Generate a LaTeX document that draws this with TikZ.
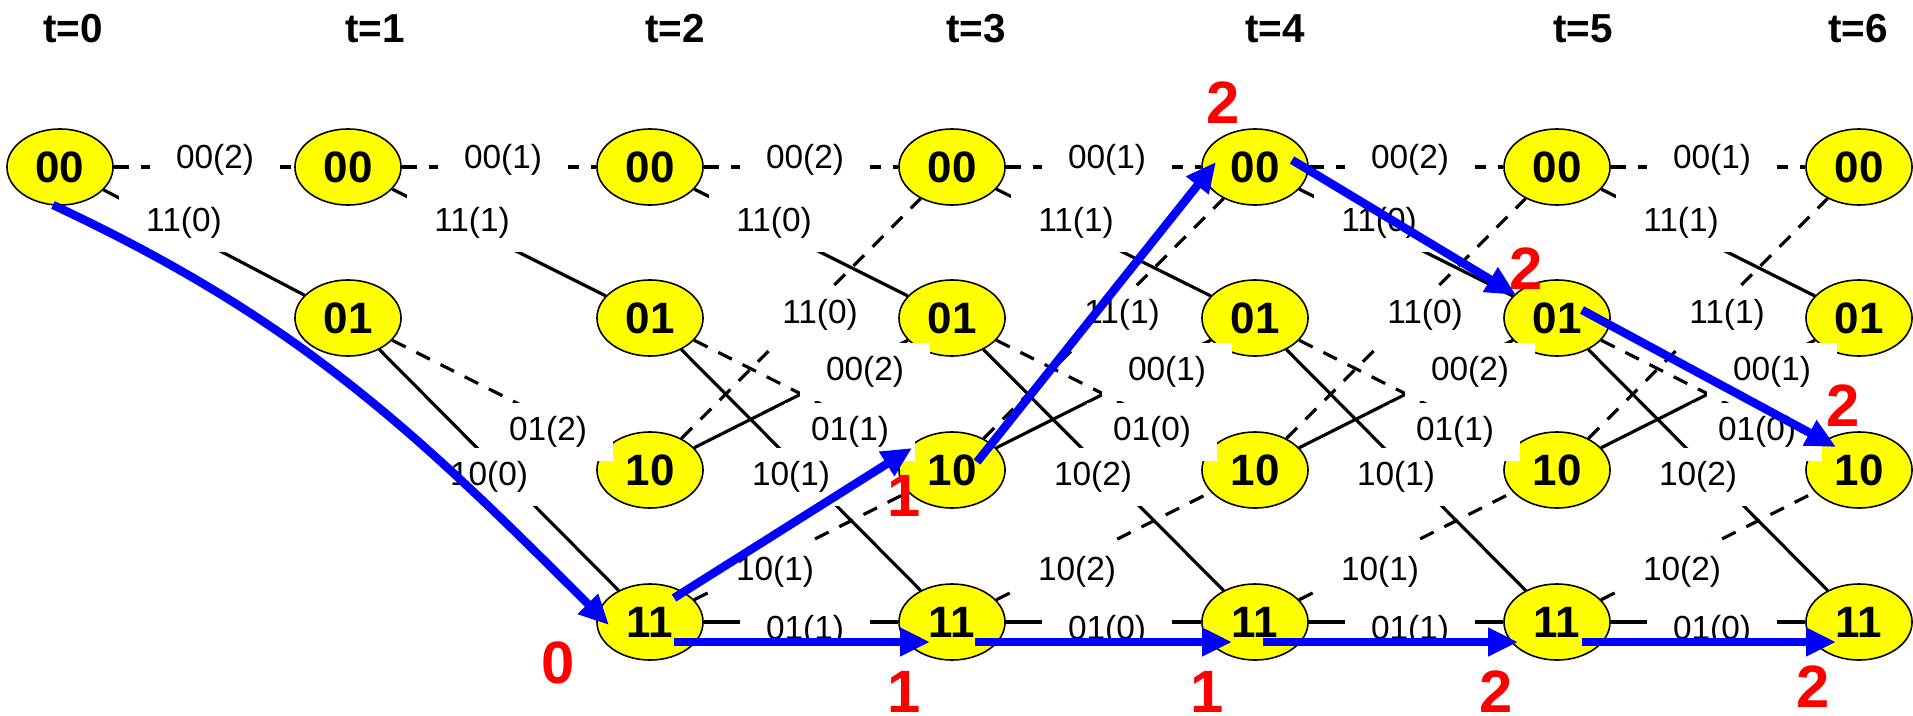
\documentclass[tikz,border=0pt]{standalone}
\usepackage{fontspec}
\setmainfont{Liberation Sans}
\usetikzlibrary{shapes.geometric,arrows.meta,calc}

\definecolor{stateyellow}{RGB}{255,255,0}
\definecolor{pathblue}{RGB}{0,0,255}
\definecolor{metricred}{RGB}{255,0,0}

\begin{document}
\begin{tikzpicture}[
    x=0.01cm, y=-0.01cm,
    state/.style={
      draw,
      ellipse,
      fill=stateyellow,
      line width=0.45pt,
      minimum width=1.06cm,
      minimum height=0.76cm,
      inner sep=0pt,
      font=\fontsize{12.5}{13}\selectfont\bfseries,
    },
    timelbl/.style={font=\fontsize{11.5}{12}\selectfont\bfseries},
    lbl/.style={
      fill=white,
      minimum width=1.3cm,
      minimum height=0.58cm,
      inner sep=0pt,
      font=\fontsize{9.5}{10}\selectfont,
    },
    inzero/.style={line width=0.9pt, dash pattern=on 4.3pt off 3.4pt},
    inone/.style={line width=0.9pt},
    best/.style={pathblue, line width=2.4pt,
      -{Triangle[length=0.3cm,width=0.27cm]}},
    metric/.style={text=metricred, inner sep=0pt,
      font=\fontsize{17}{18}\selectfont\bfseries},
  ]
  \useasboundingbox (0,0) rectangle (1913,715);

  % time axis
  \foreach \col/\lx in {0/73,1/375,2/675,3/976,4/1275,5/1583,6/1858}
    \node[timelbl] (tl\col) at (\lx,29) {t=\col};

  % states
  \node[state] (t0-00) at (60,167) {00};
  \node[state] (t1-00) at (348,167) {00};
  \node[state] (t1-01) at (348,318) {01};
  \foreach \col/\x in {2/650,3/952,4/1255,5/1557,6/1859}
    \foreach \st/\y in {00/167,01/318,10/470,11/622}
      \node[state] (t\col-\st) at (\x,\y) {\st};

  % branches (dashed: input 0, solid: input 1)
  \draw[inzero] (t0-00) -- (t1-00);
  \draw[inone] (t0-00) -- (t1-01);
  \draw[inzero] (t1-00) -- (t2-00);
  \draw[inone] (t1-00) -- (t2-01);
  \draw[inzero] (t1-01) -- (t2-10);
  \draw[inone] (t1-01) -- (t2-11);
  \foreach \a/\b in {2/3,3/4,4/5,5/6} {
    \draw[inzero] (t\a-00) -- (t\b-00);
    \draw[inone] (t\a-00) -- (t\b-01);
    \draw[inzero] (t\a-10) -- (t\b-00);
    \draw[inone] (t\a-10) -- (t\b-01);
    \draw[inzero] (t\a-01) -- (t\b-10);
    \draw[inone] (t\a-01) -- (t\b-11);
    \draw[inzero] (t\a-11) -- (t\b-10);
    \draw[inone] (t\a-11) -- (t\b-11);
  }

  % branch outputs and distances
  \node[lbl] (l0-a) at ($(t0-00)+(155,-7)$) {00(2)};
  \node[lbl] (l0-b) at ($(t0-00)+(124,56)$) {11(0)};
  \node[lbl] (l1-a) at ($(t1-00)+(155,-7)$) {00(1)};
  \node[lbl] (l1-b) at ($(t1-00)+(124,56)$) {11(1)};
  \node[lbl] (l1-e) at ($(t1-00)+(200,265)$) {01(2)};
  \node[lbl] (l1-f) at ($(t1-00)+(141,310)$) {10(0)};
  \foreach \a/\p/\q/\r/\d in {2/2/0/1/1,3/1/1/0/2,4/2/0/1/1,5/1/1/0/2} {
    \node[lbl] (l\a-a) at ($(t\a-00)+(155,-7)$) {00(\p)};
    \node[lbl] (l\a-b) at ($(t\a-00)+(124,56)$) {11(\q)};
    \node[lbl] (l\a-c) at ($(t\a-00)+(170,148)$) {11(\q)};
    \node[lbl] (l\a-d) at ($(t\a-00)+(215,205)$) {00(\p)};
    \node[lbl] (l\a-e) at ($(t\a-00)+(200,265)$) {01(\r)};
    \node[lbl] (l\a-f) at ($(t\a-00)+(141,310)$) {10(\d)};
    \node[lbl] (l\a-g) at ($(t\a-00)+(125,405)$) {10(\d)};
    \node[lbl] (l\a-h) at ($(t\a-00)+(155,464)$) {01(\r)};
  }

  % survivor paths
  \draw[best] ($(t0-00)+(-7,38)$) to[out=-25,in=135] ($(t2-11)+(-41,3)$);
  \draw[best] ($(t2-11)+(24,-24)$) -- ($(t3-10)+(-40,-22)$);
  \draw[best] ($(t3-10)+(25,-8)$) -- ($(t4-00)+(-39,-5)$);
  \draw[best] ($(t4-00)+(37,-7)$) -- ($(t5-01)+(-41,-23)$);
  \draw[best] ($(t5-01)+(25,-8)$) -- ($(t6-10)+(-23,-23)$);
  \draw[best] ($(t2-11)+(24,20)$) -- ($(t3-11)+(-22,20)$);
  \draw[best] ($(t3-11)+(23,20)$) -- ($(t4-11)+(-23,20)$);
  \draw[best] ($(t4-11)+(8,20)$) -- ($(t5-11)+(-39,20)$);
  \draw[best] ($(t5-11)+(25,20)$) -- ($(t6-11)+(-23,20)$);

  % accumulated metrics
  \node[metric] (m2) at ($(t2-11)+(-92,41)$) {0};
  \node[metric] (m3a) at ($(t3-10)+(-48,26)$) {1};
  \node[metric] (m3) at ($(t3-11)+(-48,70)$) {1};
  \node[metric] (m4a) at ($(t4-00)+(-32,-64)$) {2};
  \node[metric] (m4) at ($(t4-11)+(-48,70)$) {1};
  \node[metric] (m5a) at ($(t5-01)+(-31,-49)$) {2};
  \node[metric] (m5) at ($(t5-11)+(-61,70)$) {2};
  \node[metric] (m6a) at ($(t6-10)+(-16,-64)$) {2};
  \node[metric] (m6) at ($(t6-11)+(-46,65)$) {2};
\end{tikzpicture}
\end{document}
